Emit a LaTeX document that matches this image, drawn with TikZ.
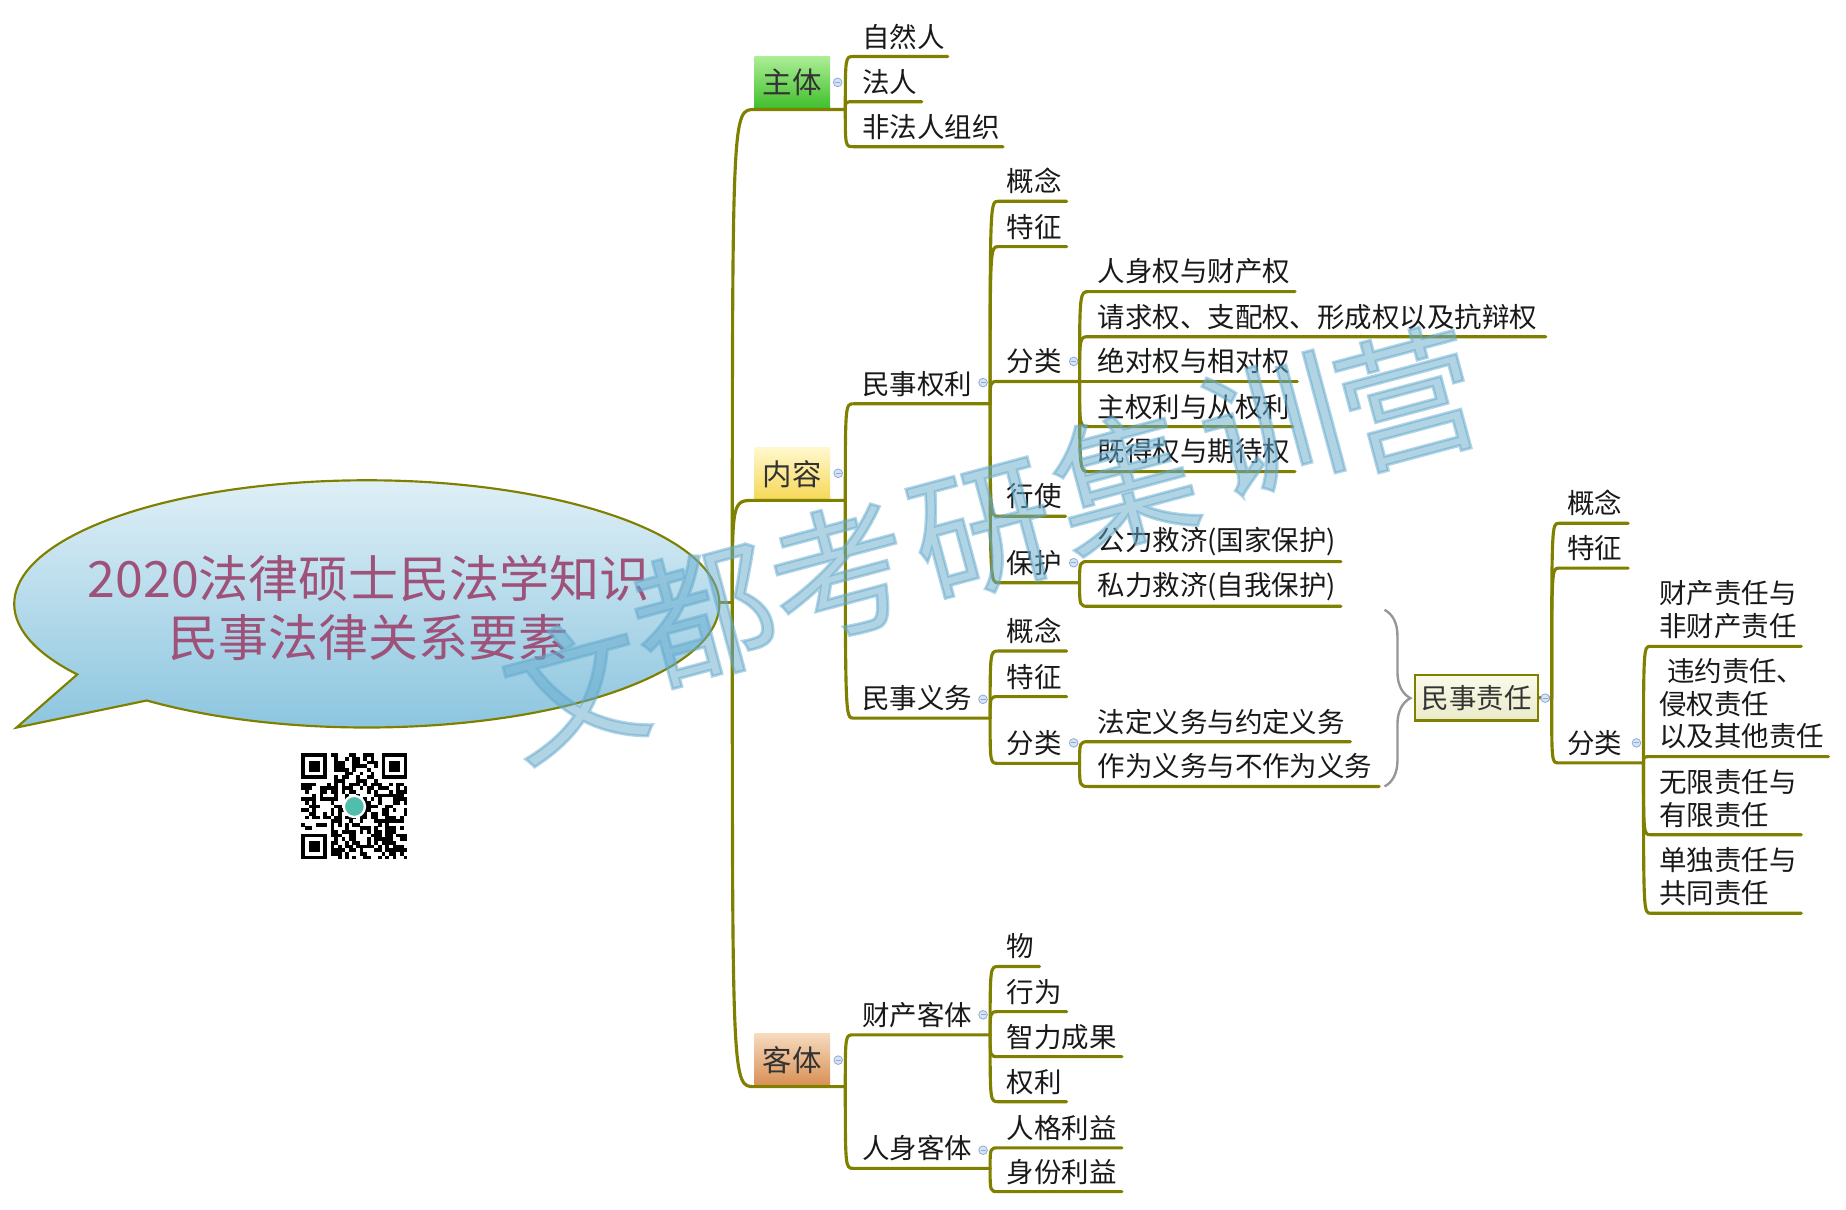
\documentclass[tikz,border=0pt]{standalone}
\usepackage{fontspec}
\setmainfont{Noto Sans CJK SC}
\newfontfamily\wmfont{Noto Sans CJK SC}[FakeBold=2]
\usetikzlibrary{decorations.pathreplacing}
\definecolor{olv}{RGB}{128,128,0}
\definecolor{ttl}{RGB}{158,82,122}
\definecolor{wm}{RGB}{100,170,205}
\definecolor{icf}{RGB}{214,228,246}
\definecolor{icd}{RGB}{140,170,215}
\definecolor{gbr}{RGB}{150,150,150}
\definecolor{txc}{RGB}{25,25,25}
\tikzset{
  br/.style={draw=olv, line width=1.6pt, line cap=round, line join=round},
  txt/.style={inner sep=0pt, anchor=west, align=left, font=\fontsize{14}{16.8}\selectfont, text=txc},
  lone/.style={minimum width=38.4pt, minimum height=27pt, inner sep=0pt, font=\fontsize{15}{18}\selectfont, text=black!80},
  icon/.style={circle, minimum size=4.4pt, inner sep=0pt, fill=icf, draw=icd, line width=0.4pt,
    path picture={\draw[icd, line width=0.6pt] ([xshift=-1.3pt]path picture bounding box.center) -- ([xshift=1.3pt]path picture bounding box.center);}},
  wmk/.style={text=wm, opacity=0.5, font=\wmfont\fontsize{72}{72}\selectfont, rotate=15, inner sep=0pt},
  brc/.style={draw=gbr, line width=1.2pt, decorate, decoration={brace, amplitude=13.2pt}},
}
% \leaf[text offset]{name}{parent junction}{x start}{x end}{underline y}{text}
\newcommand\leaf[7][17]{%
  \coordinate (#2-s) at (#4,#6);
  \coordinate (#2-e) at (#5,#6);
  \node[txt] (#2) at (#4+7,#6-#1) {#7};
  \draw[br] (#3) .. controls (#3 |- #2-s) .. (#2-s) -- (#2-e);
}
\newcommand\icn[3]{\node[icon] (#1) at (#2,#3) {};}
\begin{document}
\begin{tikzpicture}[x=0.6pt, y=-0.6pt]
\useasboundingbox (0,0) rectangle (1568,1027);
\fill[white] (0,0) rectangle (1568,1027);

% speech bubble
\draw[top color={rgb,255:red,228;green,242;blue,248}, bottom color={rgb,255:red,135;green,195;blue,222}, draw=olv, line width=1.1pt]
  (124.7,595) arc[start angle=128.6, end angle=-214.8, x radius=299.5, y radius=105] -- (14,618) -- cycle;
\node[align=center, text=ttl, font=\fontsize{25.5}{30}\selectfont, inner sep=0pt] (title) at (313,516) {2020法律硕士民法学知识\\民事法律关系要素};

% QR code
\begin{scope}[shift={(256,640)}]
  \pgfmathsetseed{20}
  \foreach \i in {0,...,28}{\foreach \j in {0,...,28}{
    \pgfmathtruncatemacro{\skipit}{or(and(\i<8,\j<8), or(and(\i>20,\j<8), and(\i<8,\j>20)))}
    \pgfmathtruncatemacro{\on}{rnd<0.5}
    \ifnum\skipit=0 \ifnum\on=1 \fill[black] (\i*3.1,\j*3.1) rectangle ++(3.15,3.15); \fi\fi
  }}
  \foreach \fx/\fy in {0/0, 68.2/0, 0/68.2}{
    \fill[black] (\fx,\fy) rectangle ++(21.7,21.7);
    \fill[white] (\fx+3.1,\fy+3.1) rectangle ++(15.5,15.5);
    \fill[black] (\fx+6.2,\fy+6.2) rectangle ++(9.3,9.3);
  }
  \filldraw[fill={rgb,255:red,80;green,190;blue,170}, draw=white, line width=1.2pt] (45,45) circle[radius=9];
\end{scope}

% level-1 boxes
\node[lone, top color={rgb,255:red,172;green,238;blue,150}, bottom color={rgb,255:red,62;green,190;blue,42}] (zhuti) at (673,70.2) {主体};
\node[lone, top color={rgb,255:red,255;green,248;blue,205}, bottom color={rgb,255:red,246;green,215;blue,85}] (neirong) at (673,402.7) {内容};
\node[lone, top color={rgb,255:red,246;green,218;blue,190}, bottom color={rgb,255:red,216;green,142;blue,82}] (keti) at (673,900.5) {客体};

% root trunk
\coordinate (root-e) at (611,512);
\coordinate (root-j) at (622,512);
\draw[br] (root-e) -- (root-j);
\foreach \n/\y in {zhuti/93, neirong/425, keti/923}{
  \coordinate (\n-s) at (641,\y);
  \coordinate (\n-e) at (718,\y);
  \draw[br] (root-j) .. controls (root-j |- \n-s) .. (\n-s) -- (\n-e);
}

% 主体
\leaf{zrr}{zhuti-e}{725}{805}{48}{自然人}
\leaf{fr}{zhuti-e}{725}{783}{86.4}{法人}
\leaf{ffr}{zhuti-e}{725}{852}{124.6}{非法人组织}

% 内容
\leaf{msql}{neirong-e}{725}{841}{343}{民事权利}
\leaf{msyw}{neirong-e}{725}{841}{610}{民事义务}

\leaf{qlgn}{msql-e}{848}{906}{171}{概念}
\leaf{qltz}{msql-e}{848}{906}{209.5}{特征}
\leaf{qlfl}{msql-e}{848}{917}{324}{分类}
\leaf{qlxs}{msql-e}{848}{905}{438.5}{行使}
\leaf{qlbh}{msql-e}{848}{917}{495}{保护}

\leaf{fla}{qlfl-e}{925}{1100}{247.7}{人身权与财产权}
\leaf{flb}{qlfl-e}{925}{1313}{286}{请求权、支配权、形成权以及抗辩权}
\leaf{flc}{qlfl-e}{925}{1102}{324}{绝对权与相对权}
\leaf{fld}{qlfl-e}{925}{1098}{362.4}{主权利与从权利}
\leaf{fle}{qlfl-e}{925}{1100}{400.6}{既得权与期待权}

\leaf{bha}{qlbh-e}{925}{1139}{477}{公力救济(国家保护)}
\leaf{bhb}{qlbh-e}{925}{1139}{515}{私力救济(自我保护)}

\leaf{ywgn}{msyw-e}{848}{906}{553}{概念}
\leaf{ywtz}{msyw-e}{848}{906}{591.7}{特征}
\leaf{ywfl}{msyw-e}{848}{917}{648.4}{分类}
\leaf{ywa}{ywfl-e}{925}{1147}{630}{法定义务与约定义务}
\leaf{ywb}{ywfl-e}{925}{1171.5}{668}{作为义务与不作为义务}

% 民事责任 (summary)
\coordinate (brt) at (1176,518);
\coordinate (brb) at (1176,668);
\draw[brc] (brt) -- (brb);
\node[draw=olv, line width=1.3pt, minimum width=62.7pt, minimum height=23.2pt, inner sep=0pt,
  top color={rgb,255:red,250;green,250;blue,234}, bottom color={rgb,255:red,234;green,234;blue,202},
  font=\fontsize{14}{16.8}\selectfont, text=black!80] (zeren) at (1254.3,592.7) {民事责任};
\coordinate (zeren-e) at (1318,593);
\draw[br] (zeren.east) -- (zeren-e);
\leaf{zrgn}{zeren-e}{1324}{1383}{444.5}{概念}
\leaf{zrtz}{zeren-e}{1324}{1383}{482.6}{特征}
\leaf{zrfl}{zeren-e}{1324}{1396}{648}{分类}
\leaf[31]{zra}{zrfl-e}{1402}{1530}{549}{财产责任与\\非财产责任}
\leaf[45]{zrb}{zrfl-e}{1402}{1553}{642.7}{\hspace{4pt}违约责任、\\侵权责任\\以及其他责任}
\leaf[31]{zrc}{zrfl-e}{1402}{1530}{709}{无限责任与\\有限责任}
\leaf[31]{zrd}{zrfl-e}{1402}{1530}{775.7}{单独责任与\\共同责任}

% 客体
\leaf{cckt}{keti-e}{725}{841}{879}{财产客体}
\leaf{rskt}{keti-e}{725}{841}{992.4}{人身客体}
\leaf{wu}{cckt-e}{848}{883}{821}{物}
\leaf{xw}{cckt-e}{848}{906}{859.3}{行为}
\leaf{zlcg}{cckt-e}{848}{953}{897.5}{智力成果}
\leaf{qli}{cckt-e}{848}{906}{935.8}{权利}
\leaf{rgly}{rskt-e}{848}{953}{975}{人格利益}
\leaf{sfly}{rskt-e}{848}{953}{1012.2}{身份利益}

% collapse icons
\icn{i1}{711.5}{70}
\icn{i2}{712}{402}
\icn{i3}{712}{900.5}
\icn{i4}{835}{325}
\icn{i5}{835}{594}
\icn{i6}{912}{307}
\icn{i7}{912}{478}
\icn{i8}{912}{631}
\icn{i9}{1312.5}{593}
\icn{i10}{1390}{631}
\icn{i11}{835}{862}
\icn{i12}{835}{977}

% watermark
\node[wmk] (wa) at (488,585) {文};
\node[wmk] (wb) at (598,522) {都};
\node[wmk] (wc) at (713,486) {考};
\node[wmk] (wd) at (835,452) {研};
\node[wmk] (we) at (955,408) {集};
\node[wmk] (wf) at (1080,362) {训};
\node[wmk] (wg) at (1195,338) {营};
\end{tikzpicture}
\end{document}
